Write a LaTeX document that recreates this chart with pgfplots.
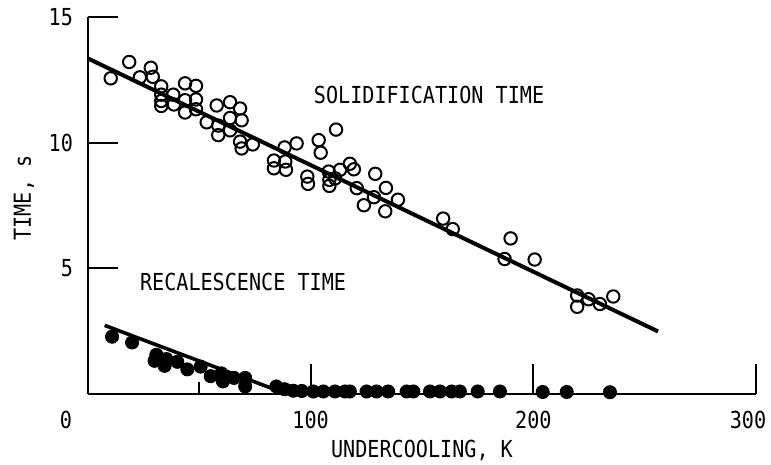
\documentclass[border=0pt]{standalone}
\usepackage{pgfplots}
\pgfplotsset{compat=1.18}
\usepackage{fontspec}
\setmainfont{DejaVu Sans Mono}[FakeStretch=0.86]

% solidification time (open circles)
\pgfplotstableread{
x y
10.2 12.56
18.5 13.21
23.3 12.60
28.2 12.98
29.1 12.62
32.9 12.24
32.9 11.91
32.9 11.66
32.9 11.46
38.3 11.91
38.6 11.52
43.6 12.36
48.5 12.26
43.6 11.69
43.6 11.20
48.5 11.72
48.5 11.33
53.3 10.81
57.8 11.48
63.8 11.61
68.3 11.36
58.5 10.68
58.5 10.30
63.8 10.98
69.0 10.89
63.8 10.49
68.3 10.04
69.0 9.77
74.0 9.93
88.3 9.81
93.7 9.97
83.5 9.29
83.5 8.98
88.6 9.25
88.9 8.92
103.6 10.10
104.5 9.60
111.4 10.52
98.5 8.65
98.8 8.36
108.1 8.85
108.4 8.52
108.4 8.28
113.2 8.92
117.6 9.16
119.4 8.94
111.0 8.58
120.7 8.19
129.0 8.76
123.9 7.51
128.4 7.83
133.8 8.20
139.2 7.73
133.5 7.27
159.5 6.98
163.8 6.56
189.8 6.19
187.1 5.37
200.6 5.35
219.7 3.92
219.7 3.47
224.8 3.77
229.9 3.58
235.9 3.88
}\soltable

% recalescence time (filled circles)
\pgfplotstableread{
x y
10.8 2.28
19.8 2.05
30.7 1.56
29.9 1.32
34.4 1.12
35.2 1.39
40.1 1.28
44.6 0.98
50.6 1.09
55.1 0.71
59.9 0.82
60.6 0.50
65.6 0.64
70.6 0.64
70.6 0.30
84.6 0.30
88.3 0.19
92.2 0.13
96.0 0.12
101.2 0.10
105.7 0.10
110.9 0.10
115.4 0.10
117.6 0.10
125.1 0.10
129.6 0.10
134.8 0.10
143.1 0.10
146.1 0.10
153.6 0.10
158.1 0.10
163.3 0.10
167.0 0.10
175.0 0.10
185.0 0.10
204.2 0.08
215.0 0.08
234.4 0.07
}\rectable

\begin{document}
\begin{tikzpicture}
\begin{axis}[
    at={(0,0)}, anchor=south west,
    scale only axis,
    width=334pt, height=188.5pt,
    xmin=0, xmax=300, ymin=0, ymax=15,
    axis lines*=left,
    axis line style={line width=1pt},
    clip=false,
    xtick={100,200,300},
    xticklabels={100,200,{\kern-8pt 300}},
    ytick={5,10,15},
    extra x ticks={50},
    extra x tick labels={},
    extra x tick style={major tick length=6pt},
    tick align=inside,
    major tick length=15pt,
    tick style={line width=0.9pt, black},
    font=\fontsize{11.7}{14}\selectfont,
    /pgf/number format/assume math mode=true,
    yticklabel style={xshift=-4pt},
    xticklabel style={yshift=-5pt},
]
    \addplot[line width=2pt, black] coordinates {(0,13.35) (256,2.49)};
    \addplot[line width=1.8pt, black] coordinates {(7.5,2.73) (84.5,0.16)};
    \addplot[only marks, mark=o, mark size=3.1pt,
        mark options={line width=1pt, fill=white, draw=black}] table {\soltable};
    \addplot[only marks, mark=*, mark size=3.3pt,
        mark options={fill=black, draw=black}] table {\rectable};

    \node[anchor=west] at (axis cs:98.3,11.9) {SOLIDIFICATION TIME};
    \node[anchor=west] at (axis cs:20.2,4.47) {RECALESCENCE TIME};
    \node at ([xshift=-11pt,yshift=-13pt]axis cs:0,0) {0};
    \node at ([yshift=-28pt]rel axis cs:0.5,0) {UNDERCOOLING, K};
    \node[rotate=90] at ([xshift=-32pt]rel axis cs:0,0.52) {TIME, s};
\end{axis}
\pgfresetboundingbox
\path[use as bounding box] (-44pt,-35.5pt) rectangle (341.5pt,197pt);
\end{tikzpicture}
\end{document}
